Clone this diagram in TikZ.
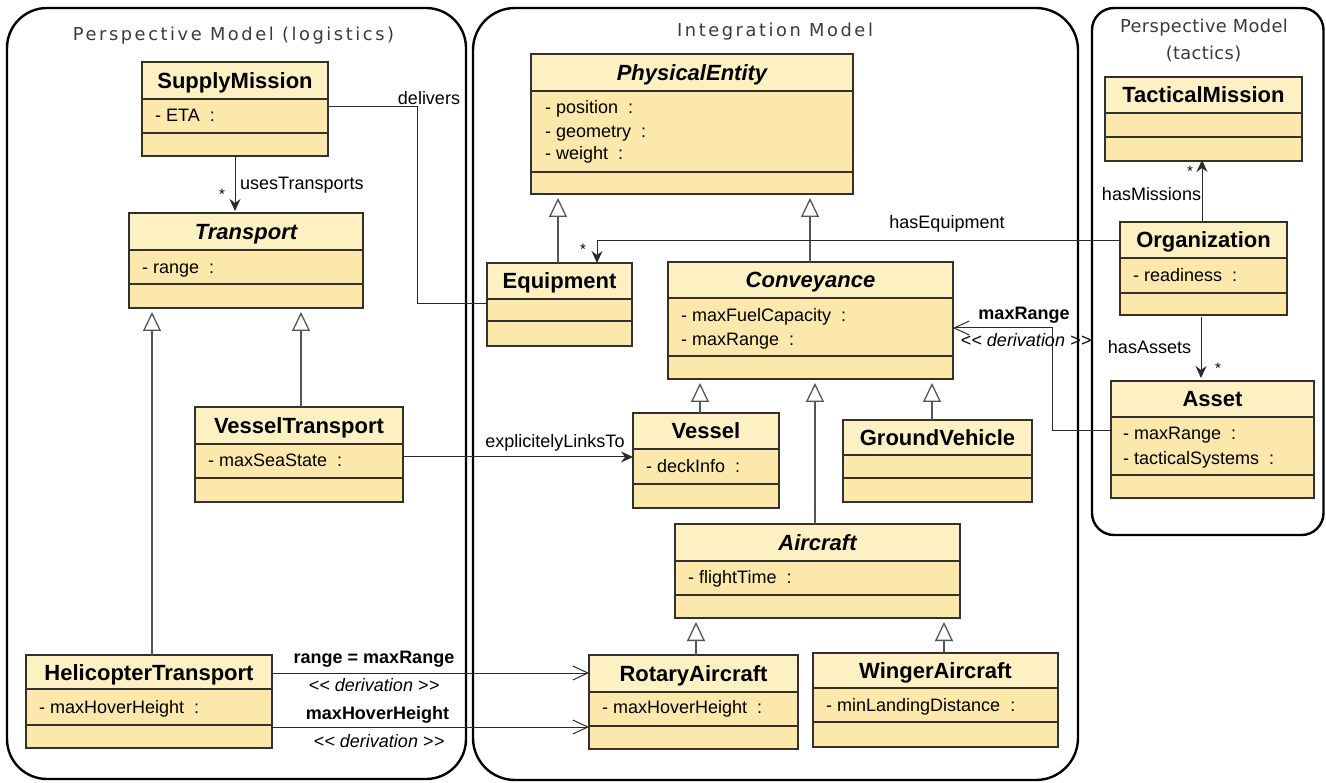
\documentclass[tikz,border=0pt]{standalone}
\usepackage{fontspec}
\setmainfont{Liberation Sans}
\newfontfamily\pkgfont[LetterSpace=14.5]{DejaVu Sans}
\newfontfamily\pkgfonttight[LetterSpace=2]{DejaVu Sans}
\usetikzlibrary{arrows.meta}
\definecolor{titlefill}{HTML}{FDF0C3}
\definecolor{compfill}{HTML}{FCE8AA}
\definecolor{boxcol}{HTML}{33312A}
\definecolor{linecol}{HTML}{2A2A2A}
\definecolor{gencol}{HTML}{555555}
\definecolor{pkgtext}{HTML}{3A3A3A}
\tikzset{
 classbox/.style={draw=boxcol, line width=1.3pt, inner sep=0pt, outer sep=0pt, rectangle},
 sepline/.style={draw=boxcol, line width=1.2pt},
 classname/.style={font=\fontsize{22}{26}\selectfont\bfseries, inner sep=0pt, text height=16pt, text depth=0pt},
 attr/.style={font=\fontsize{18}{22}\selectfont, inner sep=0pt, anchor=west, text height=13pt, text depth=0pt},
 lbl/.style={font=\fontsize{18}{22}\selectfont, inner sep=0pt, text height=13pt, text depth=0pt},
 blbl/.style={lbl, font=\fontsize{18}{22}\selectfont\bfseries},
 ilbl/.style={lbl, font=\fontsize{18}{22}\selectfont\itshape},
 mult/.style={font=\fontsize{15}{16}\selectfont, inner sep=0pt},
 pkg/.style={draw=black, line width=2.4pt},
 pkgtitle/.style={font=\pkgfont\fontsize{17.8}{24}\selectfont, text=pkgtext, inner sep=0pt, text height=13pt, text depth=0pt},
 pkgtitletight/.style={pkgtitle, font=\pkgfonttight\fontsize{17.8}{24}\selectfont},
 gen/.style={draw=gencol, line width=1.3pt, -{Triangle[length=19pt,width=18pt,fill=white]}, shorten >=4pt},
 assoc/.style={draw=linecol, line width=1pt},
 nav/.style={assoc, -{Stealth[length=12pt,width=11pt,inset=4pt]}},
 deriv/.style={assoc, -{Straight Barb[length=15pt,width=14pt]}},
}
% #1 name, #2 x1, #3 y1, #4 x2, #5 first separator, #6 second separator, #7 y2, #8 title
\newcommand\umlclass[8]{%
  \fill[titlefill] (#2,#3) rectangle (#4,#5);
  \fill[compfill] (#2,#5) rectangle (#4,#7);
  \draw[sepline] (#2,#5) -- (#4,#5) (#2,#6) -- (#4,#6);
  \node[classbox, anchor=north west, minimum width={#4-#2}, minimum height={#7-#3}] (#1) at (#2,#3) {};
  \node[classname] (#1-name) at ({(#2+#4)/2},{(#3+#5)/2}) {#8};
}
\newcommand\derivtext{<\kern0.4pt< derivation >\kern0.4pt>}
\begin{document}
\begin{tikzpicture}[x=1pt,y=-1pt]
\useasboundingbox (0,0) rectangle (1326,783);
% packages
\draw[pkg, rounded corners=40pt] (7,8) rectangle (466,779);
\draw[pkg, rounded corners=42pt] (473,8) rectangle (1078,780);
\draw[pkg, rounded corners=22pt] (1092,8) rectangle (1323.5,535);
\node[pkgtitle] (tlog) at (233.5,34.5) {Perspective Model (logistics)};
\node[pkgtitle] (tint) at (775,30.5) {Integration Model};
\node[pkgtitletight] (ttac1) at (1204,26.5) {Perspective Model};
\node[pkgtitletight] (ttac2) at (1203.5,53) {(tactics)};
% classes
\umlclass{supply}{142}{62}{328}{99}{133}{156}{SupplyMission}
\node[attr] (supply-a1) at (155,115) {- ETA~~:};
\umlclass{transport}{129}{213}{363}{250}{284}{308}{\itshape Transport}
\node[attr] (transport-a1) at (142,267) {- range~~:};
\umlclass{vt}{195}{407}{403}{444}{478}{502}{VesselTransport}
\node[attr] (vt-a1) at (208,460) {- maxSeaState~~:};
\umlclass{heli}{26}{655}{272}{689}{725}{748}{HelicopterTransport}
\node[attr] (heli-a1) at (39,707) {- maxHoverHeight~~:};
\umlclass{pe}{531}{54}{853}{91}{172}{194}{\itshape PhysicalEntity}
\node[attr] (pe-a1) at (545,107) {- position~~:};
\node[attr] (pe-a2) at (545,131) {- geometry~~:};
\node[attr] (pe-a3) at (545,153) {- weight~~:};
\umlclass{equip}{487}{263}{632}{299}{321}{346}{Equipment}
\umlclass{conv}{668}{262}{953}{298}{356}{379}{\itshape Conveyance}
\node[attr] (conv-a1) at (681,315) {- maxFuelCapacity~~:};
\node[attr] (conv-a2) at (681,339) {- maxRange~~:};
\umlclass{vessel}{633}{413}{779}{449}{484}{508}{Vessel}
\node[attr] (vessel-a1) at (646,466) {- deckInfo~~:};
\umlclass{gv}{843}{420}{1032}{455}{478}{502}{GroundVehicle}
\umlclass{aircraft}{675}{524}{960}{561}{595}{618}{\itshape Aircraft}
\node[attr] (aircraft-a1) at (688,577) {- flightTime~~:};
\umlclass{rotary}{589}{655}{798}{692}{726}{749}{RotaryAircraft}
\node[attr] (rotary-a1) at (602,707) {- maxHoverHeight~~:};
\umlclass{winger}{813}{653}{1058}{688}{722}{747}{WingerAircraft}
\node[attr] (winger-a1) at (826,705) {- minLandingDistance~~:};
\umlclass{tactical}{1105}{77}{1302}{113}{137}{161}{TacticalMission}
\umlclass{org}{1120}{222}{1287}{258}{293}{315}{Organization}
\node[attr] (org-a1) at (1133,275) {- readiness~~:};
\umlclass{asset}{1111}{381}{1314}{417}{475}{498}{Asset}
\node[attr] (asset-a1) at (1123,433) {- maxRange~~:};
\node[attr] (asset-a2) at (1123,458) {- tacticalSystems~~:};
% generalizations
\draw[gen] (heli.north -| 152,0) -- (transport.south -| 152,0);
\draw[gen] (vt.north -| 301,0) -- (transport.south -| 301,0);
\draw[gen] (equip.north -| 558,0) -- (pe.south -| 558,0);
\draw[gen] (conv.north -| 810,0) -- (pe.south -| 810,0);
\draw[gen] (vessel.north -| 700,0) -- (conv.south -| 700,0);
\draw[gen] (gv.north -| 932,0) -- (conv.south -| 932,0);
\draw[gen] (aircraft.north -| 815,0) -- (conv.south -| 815,0);
\draw[gen] (rotary.north -| 696,0) -- (aircraft.south -| 696,0);
\draw[gen] (winger.north -| 944,0) -- (aircraft.south -| 944,0);
% associations
\draw[assoc] (supply.east |- 0,107) -- (417,107) |- (equip.west |- 0,304);
\node[lbl] (ldel) at (429,98) {delivers};
\draw[nav, shorten >=2pt] (supply.south -| 235,0) -- (transport.north -| 235,0);
\node[lbl, anchor=west] (luses) at (240,183) {usesTransports};
\node[mult] (m1) at (222,194) {*};
\draw[nav] (org.west |- 0,241) -| (equip.north -| 597,0);
\node[lbl] (lequip) at (947,222) {hasEquipment};
\node[mult] (m2) at (583,249) {*};
\draw[nav, shorten >=-1pt] (org.north -| 1202,0) -- (tactical.south -| 1202,0);
\node[lbl] (lmis) at (1151.5,194) {hasMissions};
\node[mult] (m3) at (1190,171) {*};
\draw[nav, shorten >=3pt, shorten <=2pt] (org.south -| 1201,0) -- (asset.north -| 1201,0);
\node[lbl] (lass) at (1149.5,347) {hasAssets};
\node[mult] (m4) at (1218,368) {*};
\draw[nav] (vt.east |- 0,457) -- (vessel.west |- 0,457);
\node[lbl] (llink) at (555,441) {explicitelyLinksTo};
% derivations
\draw[deriv] (asset.west |- 0,431) -- (1052,431) |- (conv.east |- 0,328);
\node[blbl] (dmr) at (1024,313) {maxRange};
\node[ilbl] (dmr2) at (1026,340) {\derivtext};
\draw[deriv] (heli.east |- 0,673) -- (rotary.west |- 0,673);
\node[blbl] (drr) at (374,657) {range = maxRange};
\node[ilbl] (drr2) at (374,685) {\derivtext};
\draw[deriv] (heli.east |- 0,727) -- (rotary.west |- 0,727);
\node[blbl] (dhh) at (377.5,713) {maxHoverHeight};
\node[ilbl] (dhh2) at (379,741) {\derivtext};
\end{tikzpicture}
\end{document}
